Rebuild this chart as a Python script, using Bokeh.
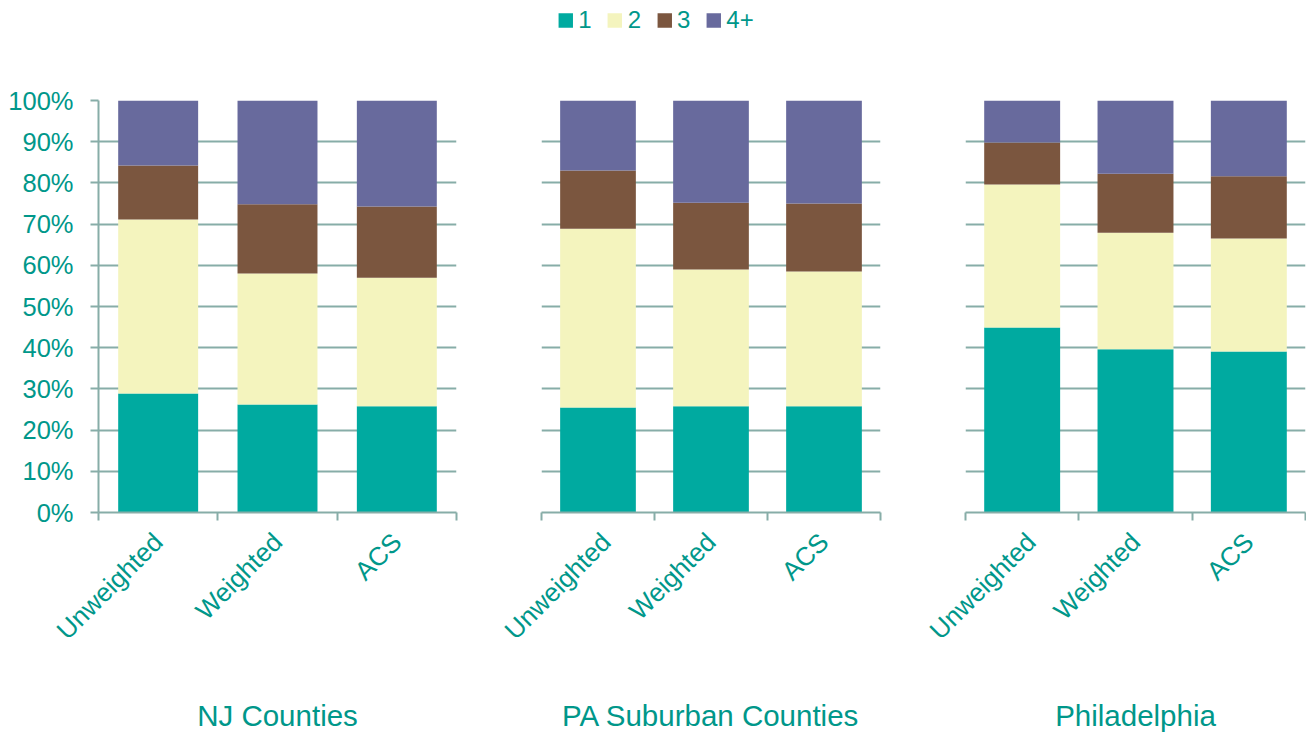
import math
from bokeh.plotting import figure
from bokeh.models import (ColumnDataSource, FixedTicker, Range1d, Legend, LegendItem,
                          PrintfTickFormatter, CustomJSTickFormatter)
from bokeh.layouts import row, column
from bokeh.embed import file_html
from bokeh.resources import INLINE

# ---------------- data ----------------
sizes = ["1", "2", "3", "4+"]
sources = ["Unweighted", "Weighted", "ACS"]
groups = ["NJ Counties", "PA Suburban Counties", "Philadelphia"]

# share (%) of households by size, per source
nj_1 = [28.9, 26.2, 25.8]
nj_2 = [42.2, 31.8, 31.2]
nj_3 = [13.1, 16.8, 17.3]
nj_4 = [15.8, 25.2, 25.7]

pa_1 = [25.5, 25.8, 25.8]
pa_2 = [43.4, 33.2, 32.7]
pa_3 = [14.1, 16.2, 16.5]
pa_4 = [17.0, 24.8, 25.0]

ph_1 = [44.9, 39.6, 39.1]
ph_2 = [34.7, 28.3, 27.4]
ph_3 = [10.2, 14.3, 15.1]
ph_4 = [10.2, 17.8, 18.4]

y_ticks = [0, 10, 20, 30, 40, 50, 60, 70, 80, 90, 100]

# ---------------- style ----------------
colors = ["#00AAA0", "#F4F4BE", "#7B563F", "#686A9D"]
TEXT = "#00978A"
GRID = "#87ADA8"
FONT = "Liberation Sans"


def make_panel(title, s1, s2, s3, s4, left, fw, right, show_y):
    p = figure(x_range=Range1d(0, len(sources)), y_range=Range1d(0, 100),
               frame_width=fw, frame_height=412,
               min_border_left=left, min_border_right=right,
               min_border_top=60, min_border_bottom=210,
               toolbar_location=None, output_backend="svg",
               outline_line_color=None)
    src = ColumnDataSource(dict(x=[i + 0.5 for i in range(len(sources))],
                                s1=s1, s2=s2, s3=s3, s4=s4))
    p.vbar_stack(["s1", "s2", "s3", "s4"], x="x", width=0.67,
                 fill_color=colors, line_color=None, source=src)

    xa = p.xaxis[0]
    xa.ticker = FixedTicker(ticks=[i + 0.5 for i in range(len(sources))],
                            minor_ticks=list(range(len(sources) + 1)))
    xa.formatter = CustomJSTickFormatter(args=dict(labels=sources),
                                         code="const l = labels[Math.floor(tick)]; return l === undefined ? '' : l;")
    xa.major_tick_out = 0
    xa.major_tick_in = 0
    xa.minor_tick_out = 8
    xa.minor_tick_in = 0
    xa.minor_tick_line_color = GRID
    xa.minor_tick_line_width = 2
    xa.axis_line_color = GRID
    xa.axis_line_width = 2
    xa.major_label_orientation = math.pi / 4
    xa.major_label_standoff = 17
    xa.major_label_text_font = FONT
    xa.major_label_text_font_size = "26px"
    xa.major_label_text_color = TEXT
    xa.axis_label = title
    xa.axis_label_text_font = FONT
    xa.axis_label_text_font_size = "29.5px"
    xa.axis_label_text_font_style = "normal"
    xa.axis_label_text_color = TEXT
    xa.axis_label_standoff = 40

    ya = p.yaxis[0]
    ya.ticker = FixedTicker(ticks=y_ticks)
    ya.formatter = PrintfTickFormatter(format="%d%%")
    ya.major_tick_out = 8
    ya.major_tick_in = 0
    ya.minor_tick_line_color = None
    ya.major_tick_line_color = GRID
    ya.major_tick_line_width = 2
    ya.axis_line_color = GRID
    ya.axis_line_width = 2
    ya.major_label_standoff = 17
    ya.major_label_text_font = FONT
    ya.major_label_text_font_size = "25.5px"
    ya.major_label_text_color = TEXT
    ya.visible = show_y

    p.xgrid.visible = False
    p.ygrid.ticker = FixedTicker(ticks=y_ticks)
    p.ygrid.grid_line_color = GRID
    p.ygrid.grid_line_width = 2
    return p


p1 = make_panel(groups[0], nj_1, nj_2, nj_3, nj_4, 98, 358, 42, True)
p2 = make_panel(groups[1], pa_1, pa_2, pa_3, pa_4, 43, 339, 43, False)
p3 = make_panel(groups[2], ph_1, ph_2, ph_3, ph_4, 42, 340, 1, False)

# ---------------- legend ----------------
lf = figure(width=1306, height=40, x_axis_location=None, y_axis_location=None,
            x_range=Range1d(0, 1), y_range=Range1d(0, 1),
            toolbar_location=None, output_backend="svg",
            min_border_left=4, min_border_right=0, min_border_top=0, min_border_bottom=0,
            outline_line_color=None)
lf.grid.visible = False
items = []
for s, c in zip(sizes, colors):
    # legend-only swatch renderer (no visible data)
    r = lf.vbar(x=[float("nan")], top=[float("nan")], width=1, fill_color=c, line_color=None)
    items.append(LegendItem(label=s, renderers=[r]))
leg = Legend(items=items, orientation="horizontal", location="center",
             glyph_width=18, glyph_height=18, label_standoff=4, spacing=14,
             padding=0, margin=0, border_line_color=None, background_fill_alpha=0,
             label_text_font=FONT, label_text_font_size="24px",
             label_text_color=TEXT, label_height=18, label_width=10)
lf.add_layout(leg, "center")

layout = column(lf, row(p1, p2, p3))
open("out.html", "w").write(file_html(layout, INLINE))
